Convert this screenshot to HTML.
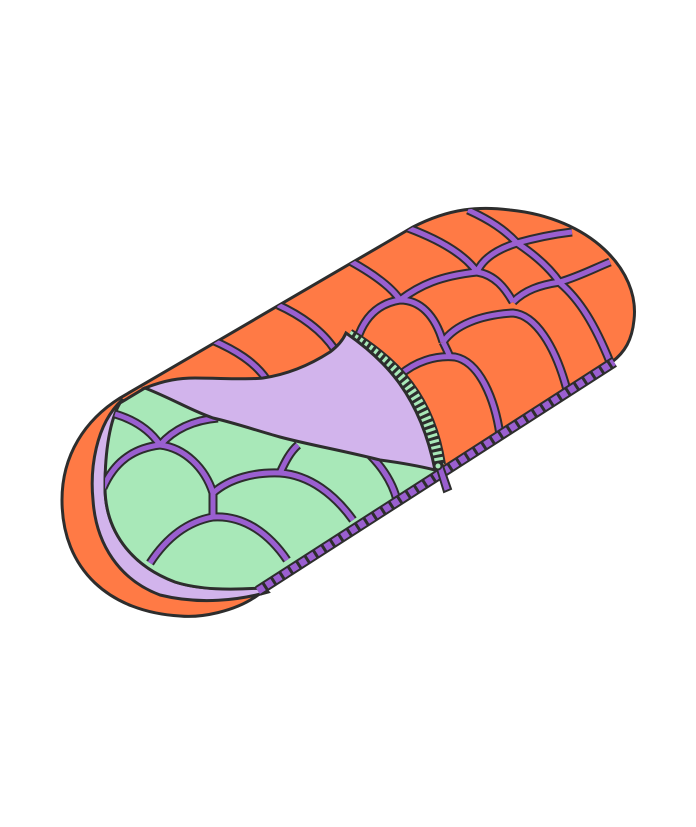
<!DOCTYPE html>
<html><head><meta charset="utf-8"><style>html,body{margin:0;padding:0;background:#fff;width:696px;height:827px;overflow:hidden}</style></head>
<body>
<svg width="696" height="827" viewBox="0 0 696 827">
<defs>
<clipPath id="orangeClip"><path d="M120,398 L413,227 C450,208 480,206 510,210 C590,218 640,270 634,320 C632,340 625,352 612,362 L258,595 C235,612 200,618 180,616 C110,612 62,570 62,500 C62,455 85,420 120,398 Z"/></clipPath>
<clipPath id="greenClip"><path d="M120,403 L145,388 L440,470 L262,588 C230,590 200,590 175,582 C130,565 105,530 105,487 C105,450 110,420 120,403 Z"/></clipPath>
</defs>
<g>
<path d="M120,398 L413,227 C450,208 480,206 510,210 C590,218 640,270 634,320 C632,340 625,352 612,362 L258,595 C235,612 200,618 180,616 C110,612 62,570 62,500 C62,455 85,420 120,398 Z" fill="#ff7a45" stroke="#2d2d2d" stroke-width="3"/>
</g>
<g clip-path="url(#orangeClip)" fill="none" stroke-linecap="butt">
<g stroke="#2d2d2d" stroke-width="9">
<path d="M212,340 C235,350 255,362 267,380"/>
<path d="M278,305 C300,315 322,330 335,350"/>
<path d="M350,261 C370,272 390,285 400,300"/>
<path d="M357,340 C365,315 380,303 400,300 C420,300 435,315 443,342"/>
<path d="M400,300 C420,285 440,276 477,272 C495,275 505,288 513,302"/>
<path d="M408,228 C440,240 465,255 477,272"/>
<path d="M468,210 C490,220 505,230 517,243"/>
<path d="M477,272 C482,260 495,250 517,243 C535,238 555,234 572,232"/>
<path d="M517,243 C535,255 550,268 560,283"/>
<path d="M513,302 C525,290 540,285 560,282 C580,276 595,268 610,262"/>
<path d="M560,283 C580,300 595,325 610,362"/>
<path d="M443,342 C455,325 480,315 513,313 C535,315 555,345 567,390"/>
<path d="M400,375 C415,362 435,355 455,357 C480,362 495,400 500,435"/>
<path d="M443,342 C446,348 448,352 450,357"/>
</g>
<g stroke="#9a5fd0" stroke-width="5">
<path d="M212,340 C235,350 255,362 267,380"/>
<path d="M278,305 C300,315 322,330 335,350"/>
<path d="M350,261 C370,272 390,285 400,300"/>
<path d="M357,340 C365,315 380,303 400,300 C420,300 435,315 443,342"/>
<path d="M400,300 C420,285 440,276 477,272 C495,275 505,288 513,302"/>
<path d="M408,228 C440,240 465,255 477,272"/>
<path d="M468,210 C490,220 505,230 517,243"/>
<path d="M477,272 C482,260 495,250 517,243 C535,238 555,234 572,232"/>
<path d="M517,243 C535,255 550,268 560,283"/>
<path d="M513,302 C525,290 540,285 560,282 C580,276 595,268 610,262"/>
<path d="M560,283 C580,300 595,325 610,362"/>
<path d="M443,342 C455,325 480,315 513,313 C535,315 555,345 567,390"/>
<path d="M400,375 C415,362 435,355 455,357 C480,362 495,400 500,435"/>
<path d="M443,342 C446,348 448,352 450,357"/>
</g>
</g>
<path d="M122,400 C95,425 90,470 93,500 C96,545 120,580 160,595 C200,605 240,600 268,592 L262,586 C230,590 200,590 175,582 C130,565 105,530 105,487 C105,450 112,420 125,402 Z" fill="#d2b4ec" stroke="#2d2d2d" stroke-width="3"/>
<g>
<path d="M120,403 L145,388 L440,470 L262,588 C230,590 200,590 175,582 C130,565 105,530 105,487 C105,450 110,420 120,403 Z" fill="#a8e8b8" stroke="#2d2d2d" stroke-width="3"/>
<g clip-path="url(#greenClip)" fill="none">
<g stroke="#2d2d2d" stroke-width="9">
<path d="M115,414 C135,420 150,430 160,445"/>
<path d="M160,445 C175,428 195,420 218,418"/>
<path d="M103,488 C115,460 135,448 160,445 C185,448 205,468 213,493"/>
<path d="M213,493 C230,478 255,472 280,473 C310,475 335,495 353,520"/>
<path d="M150,563 C165,540 185,522 213,517 C245,515 270,535 287,560"/>
<path d="M213,493 C213,500 213,510 213,517"/>
<path d="M280,473 C285,462 290,452 298,445"/>
<path d="M370,455 C385,470 393,485 397,500"/>
</g>
<g stroke="#9a5fd0" stroke-width="5">
<path d="M115,414 C135,420 150,430 160,445"/>
<path d="M160,445 C175,428 195,420 218,418"/>
<path d="M103,488 C115,460 135,448 160,445 C185,448 205,468 213,493"/>
<path d="M213,493 C230,478 255,472 280,473 C310,475 335,495 353,520"/>
<path d="M150,563 C165,540 185,522 213,517 C245,515 270,535 287,560"/>
<path d="M213,493 C213,500 213,510 213,517"/>
<path d="M280,473 C285,462 290,452 298,445"/>
<path d="M370,455 C385,470 393,485 397,500"/>
</g>
</g>
</g>
<g>
<path d="M348,336 C395,365 428,400 438,465" fill="none" stroke="#2d2d2d" stroke-width="16"/>
<path d="M348,336 C395,365 428,400 438,465" fill="none" stroke="#a8e8b8" stroke-width="12" stroke-dasharray="3 3"/>
</g>
<path d="M145,388 C165,380 180,378 195,378 C220,378 245,380 263,378 C290,374 313,363 330,352 C338,346 343,340 346,333 C385,360 420,395 435,470 C415,465 395,462 380,460 C340,450 310,445 280,437 C255,430 235,423 213,418 C190,410 175,400 145,388 Z" fill="#d2b4ec" stroke="#2d2d2d" stroke-width="3"/>
<g>
<path d="M258,591 L614,362" stroke="#2d2d2d" stroke-width="11" fill="none"/>
<path d="M258,591 L614,362" stroke="#9a5fd0" stroke-width="7" fill="none" stroke-dasharray="7 3"/>
</g>
<g>
<path d="M436,466 L444,492 L451,489 L442,463 Z" fill="#9a5fd0" stroke="#2d2d2d" stroke-width="2"/>
<circle cx="438" cy="466" r="3.5" fill="#a8e8b8" stroke="#2d2d2d" stroke-width="2"/>
</g>
</svg>
</body></html>
